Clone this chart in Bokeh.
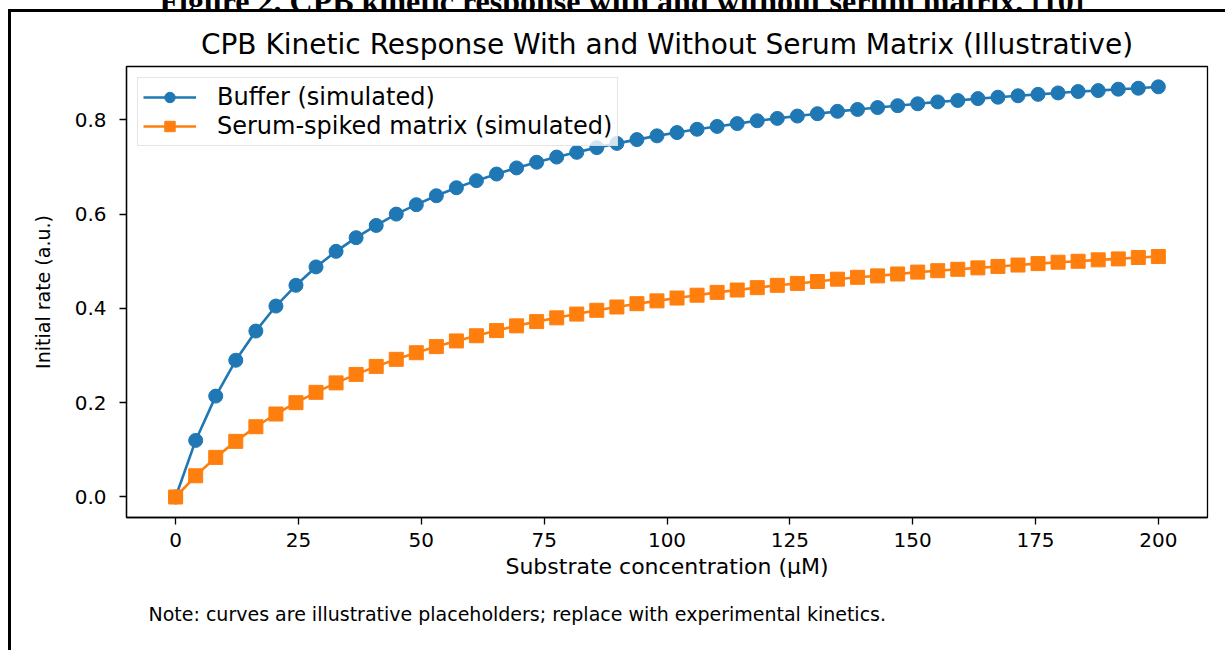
from bokeh.plotting import figure
from bokeh.layouts import column
from bokeh.models import Range1d, FixedTicker, Title, NumeralTickFormatter, Div
from bokeh.embed import file_html
from bokeh.resources import INLINE

substrate_uM = [0.00, 4.08, 8.16, 12.24, 16.33, 20.41, 24.49, 28.57, 32.65, 36.73,
                40.82, 44.90, 48.98, 53.06, 57.14, 61.22, 65.31, 69.39, 73.47, 77.55,
                81.63, 85.71, 89.80, 93.88, 97.96, 102.04, 106.12, 110.20, 114.29, 118.37,
                122.45, 126.53, 130.61, 134.69, 138.78, 142.86, 146.94, 151.02, 155.10, 159.18,
                163.27, 167.35, 171.43, 175.51, 179.59, 183.67, 187.76, 191.84, 195.92, 200.00]

buffer_rate = [0.000, 0.120, 0.214, 0.290, 0.352, 0.405, 0.449, 0.488, 0.521, 0.550,
               0.576, 0.600, 0.620, 0.639, 0.656, 0.671, 0.685, 0.698, 0.710, 0.721,
               0.731, 0.741, 0.750, 0.758, 0.766, 0.773, 0.780, 0.786, 0.792, 0.798,
               0.803, 0.808, 0.813, 0.818, 0.822, 0.826, 0.830, 0.834, 0.838, 0.841,
               0.845, 0.848, 0.851, 0.854, 0.857, 0.860, 0.862, 0.865, 0.867, 0.870]

serum_rate = [0.000, 0.045, 0.084, 0.118, 0.149, 0.176, 0.200, 0.222, 0.242, 0.260,
              0.277, 0.292, 0.306, 0.319, 0.331, 0.342, 0.353, 0.363, 0.372, 0.380,
              0.388, 0.396, 0.403, 0.410, 0.416, 0.422, 0.428, 0.434, 0.439, 0.444,
              0.449, 0.453, 0.457, 0.462, 0.466, 0.469, 0.473, 0.477, 0.480, 0.483,
              0.486, 0.489, 0.492, 0.495, 0.498, 0.500, 0.503, 0.505, 0.508, 0.510]

x_ticks = [0, 25, 50, 75, 100, 125, 150, 175, 200]
y_ticks = [0.0, 0.2, 0.4, 0.6, 0.8]

header_text = "Figure 2. CPB kinetic response with and without serum matrix. [10]"
title_text = "CPB Kinetic Response With and Without Serum Matrix (Illustrative)"
x_label = "Substrate concentration (μM)"
y_label = "Initial rate (a.u.)"
note_text = "Note: curves are illustrative placeholders; replace with experimental kinetics."
buffer_label = "Buffer (simulated)"
serum_label = "Serum-spiked matrix (simulated)"

FONT = "DejaVu Sans"
BLUE = "#1f77b4"
ORANGE = "#ff7f0e"

header = Div(
    text=('<div style="margin:-22px 0 0 8px; padding:0; width:1228px; text-align:center; '
          'font-family:\'Liberation Serif\', serif; font-weight:bold; font-size:32px; line-height:32px; '
          'white-space:nowrap; color:black;">' + header_text + '</div>'),
    width=1228, height=9,
    styles={"overflow": "hidden", "height": "9px", "margin": "0", "padding": "0",
            "display": "flow-root"})

p = figure(width=1217, height=641, output_backend="svg", toolbar_location=None,
           x_range=Range1d(-10, 210), y_range=Range1d(-0.0435, 0.9131),
           min_border_left=115, min_border_right=21, min_border_top=54, min_border_bottom=136,
           styles={"margin-left": "8px", "border-top": "3px solid black",
                   "border-left": "3px solid black"})

p.title.text = title_text
p.title.align = "center"
p.title.text_font = FONT
p.title.text_font_size = "28px"
p.title.text_font_style = "normal"
p.title.text_color = "black"
p.title.standoff = 11

p.line(substrate_uM, buffer_rate, color=BLUE, line_width=2.6, legend_label=buffer_label)
p.scatter(substrate_uM, buffer_rate, marker="circle", size=14, color=BLUE, legend_label=buffer_label)
p.line(substrate_uM, serum_rate, color=ORANGE, line_width=2.6, legend_label=serum_label)
p.scatter(substrate_uM, serum_rate, marker="square", size=14, color=ORANGE, legend_label=serum_label)

p.xgrid.visible = False
p.ygrid.visible = False
p.outline_line_color = "black"
p.outline_line_width = 1.3
p.background_fill_color = "white"
p.border_fill_color = "white"

p.xaxis.ticker = FixedTicker(ticks=x_ticks)
p.yaxis.ticker = FixedTicker(ticks=y_ticks)
p.yaxis.formatter = NumeralTickFormatter(format="0.0")
p.xaxis.axis_label = x_label
p.yaxis.axis_label = y_label
for ax in (p.xaxis, p.yaxis):
    ax.minor_tick_line_color = None
    ax.major_tick_in = 0
    ax.major_tick_out = 7
    ax.major_tick_line_color = "black"
    ax.major_tick_line_width = 1.3
    ax.axis_line_color = "black"
    ax.axis_line_width = 1.3
    ax.major_label_text_font = FONT
    ax.major_label_text_font_size = "20px"
    ax.major_label_text_color = "black"
    ax.axis_label_text_font = FONT
    ax.axis_label_text_font_style = "normal"
    ax.axis_label_text_color = "black"
p.xaxis.major_label_standoff = 8
p.yaxis.major_label_standoff = 13
p.xaxis.axis_label_text_font_size = "22px"
p.yaxis.axis_label_text_font_size = "19px"
p.xaxis.axis_label_standoff = 4
p.yaxis.axis_label_standoff = 18

lg = p.legend[0]
lg.location = "top_left"
lg.margin = 11
lg.padding = 5
lg.spacing = 1
lg.glyph_width = 53
lg.glyph_height = 26
lg.label_height = 26
lg.label_standoff = 21
lg.label_text_font = FONT
lg.label_text_font_size = "24px"
lg.label_text_color = "black"
lg.border_line_color = "#cccccc"
lg.border_line_width = 1
lg.background_fill_alpha = 0.8

note = Title(text=note_text, align="left", offset=22, standoff=39,
             text_font=FONT, text_font_size="19px", text_font_style="normal", text_color="black")
p.add_layout(note, "below")

layout = column(header, p, spacing=0)
open("out.html", "w").write(file_html(layout, INLINE))
